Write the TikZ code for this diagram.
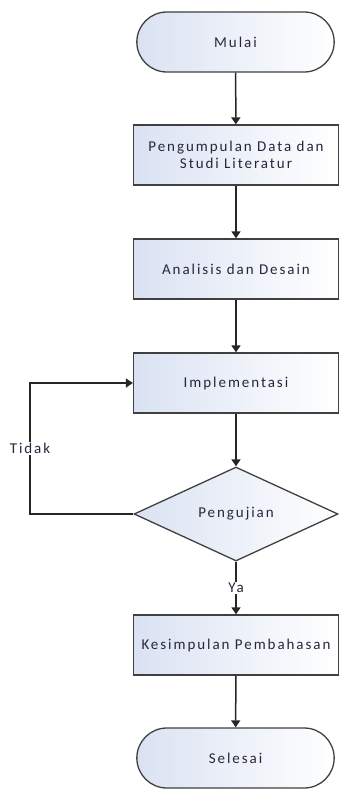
\documentclass[tikz,border=0pt]{standalone}
\usepackage{fontspec}
\setmainfont{Carlito}[LetterSpace=13]
\usetikzlibrary{shapes.geometric,shapes.misc,arrows.meta,positioning}

\definecolor{isibiru}{RGB}{218,226,242}
\definecolor{tinta}{RGB}{40,38,60}

\tikzset{
  isi/.style={draw=black!75, line width=1.3pt, left color=isibiru, right color=white,
    text=tinta, font=\fontsize{15}{17}\selectfont, align=center},
  proses/.style={isi, rectangle, minimum width=205pt, minimum height=60pt},
  terminal/.style={isi, rounded rectangle, minimum width=204pt, minimum height=60pt},
  keputusan/.style={isi, diamond, aspect=2.2, minimum width=204pt, minimum height=94pt, inner sep=0pt},
  panah/.style={draw=black!85, line width=1.5pt, -{Triangle[length=7pt,width=9pt]}},
  label/.style={fill=white, text=tinta, font=\fontsize{15}{17}\selectfont, inner sep=1pt}
}

\begin{document}
\begin{tikzpicture}[x=1pt,y=-1pt]
        \useasboundingbox (0,0) rectangle (339,789);
        \node[terminal] (mulai) at (235.5,42) {Mulai};
        \node[proses] (data) at (236,155) {Pengumpulan Data dan\\Studi Literatur};
        \node[proses] (analisis) at (236,269) {Analisis dan Desain};
        \node[proses] (impl) at (236,383) {Implementasi};
        \node[keputusan] (uji) at (236,514) {Pengujian};
        \node[proses] (simpul) at (236,645) {Kesimpulan Pembahasan};
        \node[terminal] (selesai) at (235.5,758) {Selesai};
        \coordinate (balik) at (30,514);
        \draw[panah] (mulai) -- (data);
        \draw[panah] (data) -- (analisis);
        \draw[panah] (analisis) -- (impl);
        \draw[panah] (impl) -- (uji);
        \draw[panah] (uji) -- node[label] {Ya} (simpul);
        \draw[panah] (simpul) -- (selesai);
        \draw[panah] (uji.west) -- (balik) -- node[label, pos=.5] {Tidak} (balik |- impl.west) -- (impl.west);
      \end{tikzpicture}
\end{document}
